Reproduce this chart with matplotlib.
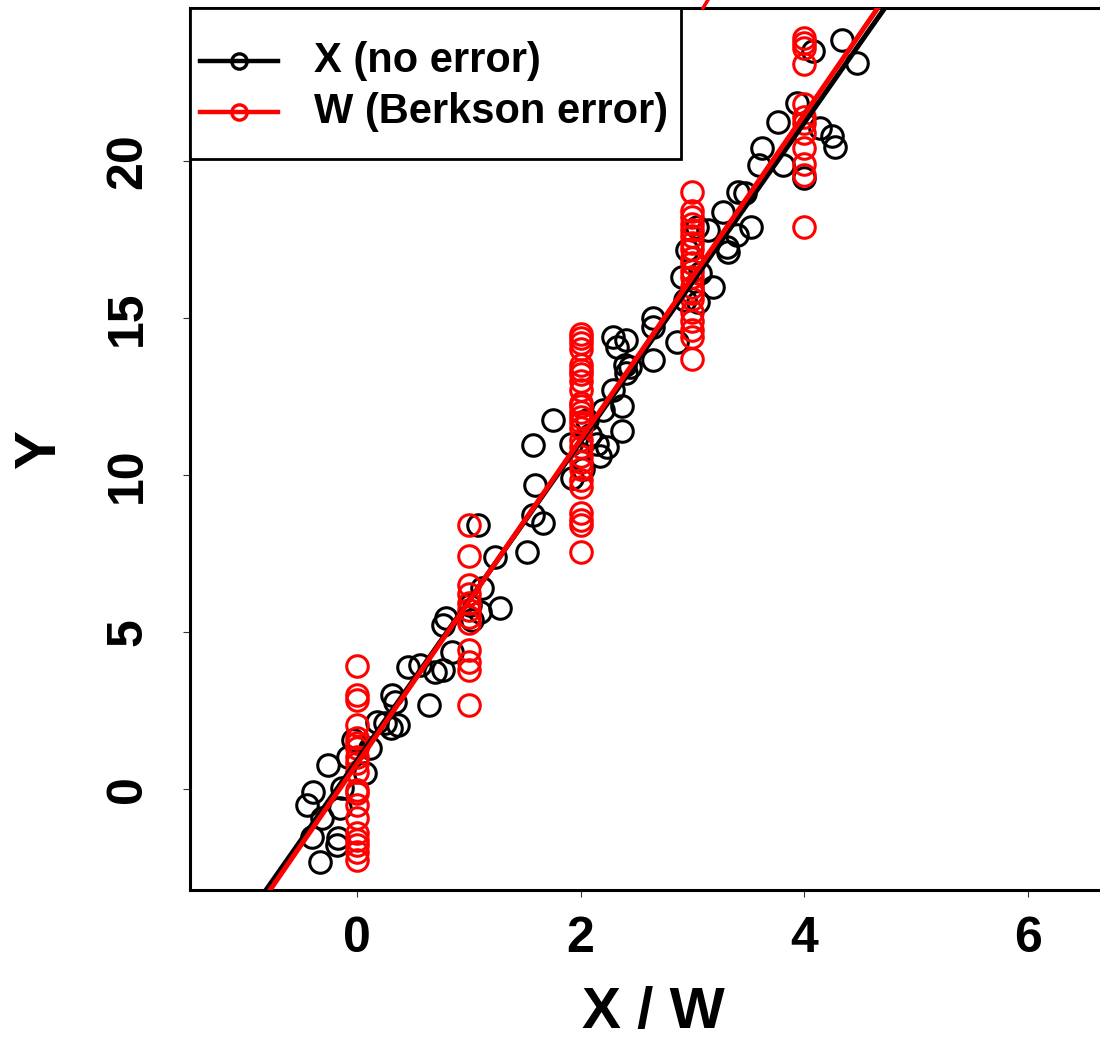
import matplotlib
matplotlib.use("Agg")
import matplotlib.pyplot as plt
from matplotlib.patches import Rectangle

plt.rcParams['font.family'] = ['Liberation Sans', 'DejaVu Sans']
plt.rcParams['font.weight'] = 'bold'

# ---- data: X (no error) ----
x_true = [-0.45, -0.39, -0.31, -0.40, -0.33, -0.18, -0.17, -0.15, -0.13, -0.26,
          -0.08, -0.04, 0.07, 0.12, 0.18, 0.25, 0.37, 0.30, 0.31, 0.34,
          0.46, 0.56, 0.70, 0.77, 0.64, 0.77, 0.85, 0.80, 1.01, 1.03,
          1.10, 1.12, 1.28, 1.08, 1.23, 1.52, 1.57, 1.66, 1.59, 1.57,
          1.75, 1.91, 1.92, 2.02, 2.06, 2.15, 2.24, 2.17, 2.37, 2.08,
          2.20, 2.29, 2.37, 2.41, 2.44, 2.40, 2.65, 2.33, 2.29, 2.41,
          2.65, 2.65, 2.86, 2.95, 2.91, 3.07, 3.18, 2.93, 3.05, 3.04,
          3.14, 3.27, 3.31, 3.32, 3.40, 3.52, 3.41, 3.47, 3.60, 3.62,
          3.81, 4.00, 3.77, 3.94, 4.14, 4.25, 4.28, 4.08, 4.34, 4.47]
y_true = [-0.51, -0.10, -0.92, -1.53, -2.32, -1.78, -1.56, -0.61, 0.03, 0.76,
          1.02, 1.56, 0.51, 1.31, 2.13, 2.10, 2.04, 1.94, 2.99, 2.77,
          3.89, 3.95, 3.73, 3.79, 2.68, 5.22, 4.36, 5.45, 5.86, 5.38,
          5.64, 6.40, 5.76, 8.41, 7.39, 7.55, 8.73, 8.47, 9.68, 10.96,
          11.75, 11.00, 9.90, 10.20, 11.75, 11.00, 10.90, 10.60, 11.40, 11.27,
          12.07, 12.70, 12.20, 13.25, 13.44, 13.50, 13.66, 14.08, 14.40, 14.30,
          15.00, 14.70, 14.24, 17.16, 16.30, 16.43, 15.99, 15.57, 15.50, 17.90,
          17.80, 18.38, 17.26, 17.10, 17.64, 17.90, 19.00, 18.98, 19.87, 20.41,
          19.87, 19.46, 21.24, 21.85, 21.05, 20.80, 20.45, 23.50, 23.85, 23.12]

# ---- data: W (Berkson error) ----
w_levels = [0, 1, 2, 3, 4]
y_w0 = [3.9, 3.0, 2.83, 2.04, 1.62, 1.47, 1.31, 1.02, 0.83, 0.54,
        -0.03, -0.13, -0.51, -0.92, -1.4, -1.62, -1.78, -2.0, -2.26]
y_w1 = [8.4, 7.42, 6.5, 6.2, 5.92, 5.7, 5.48, 5.28, 4.43, 4.05, 3.79, 2.68]
y_w2 = [14.5, 14.35, 14.2, 14.0, 13.5, 13.35, 13.2, 13.0, 12.7, 12.3,
        12.2, 12.0, 11.85, 11.7, 11.5, 11.1, 10.9, 10.6, 10.4, 10.2,
        9.84, 9.6, 8.8, 8.57, 8.4, 7.55]
y_w3 = [19.0, 18.4, 18.2, 18.0, 17.8, 17.6, 17.4, 17.2, 16.9, 16.75,
        16.5, 16.3, 16.0, 15.8, 15.6, 15.2, 14.9, 14.6, 14.4, 13.7]
y_w4 = [23.9, 23.75, 23.6, 23.1, 21.8, 21.4, 21.2, 20.9, 20.4, 19.9, 19.55, 17.9]
y_w = [y_w0, y_w1, y_w2, y_w3, y_w4]

# fitted lines (intercept, slope)
fit_labels = ['X (no error)', 'W (Berkson error)']
fit_colors = ['black', 'red']
fit_intercepts = [0.91, 0.80]
fit_slopes = [5.075, 5.167]

# stray red segment above the panel (from a neighbouring panel)
stray_x = [3.095, 3.14]
stray_y = [24.87, 25.13]

x_ticks = [0, 2, 4, 6]
y_ticks = [0, 5, 10, 15, 20]

W, H = 1100, 1041
AX_L, AX_R, AX_B, AX_T = 190, 1106, 151, 1033  # pixels from bottom-left

fig = plt.figure(figsize=(W / 100, H / 100), dpi=100)
ax = fig.add_axes([AX_L / W, AX_B / H, (AX_R - AX_L) / W, (AX_T - AX_B) / H])
ax.set_xlim(-1.494, 6.70)
ax.set_ylim(-3.22, 24.87)

ms = 15.5
ax.plot(x_true, y_true, linestyle='none', marker='o', mfc='none', mec='black',
        ms=ms, mew=2.2, zorder=2)
for w, ys in zip(w_levels, y_w):
    ax.plot([w] * len(ys), ys, linestyle='none', marker='o', mfc='none', mec='red',
            ms=ms, mew=2.2, zorder=3)

for a, b, c in zip(fit_intercepts, fit_slopes, fit_colors):
    ax.axline((0, a), slope=b, color=c, lw=3.6, zorder=4)

ax.plot(stray_x, stray_y, color='red', lw=2.5, clip_on=False, zorder=5)

ax.set_xticks(x_ticks)
ax.set_yticks(y_ticks)
ax.set_xticklabels([str(t) for t in x_ticks])
ax.set_yticklabels([str(t) for t in y_ticks], rotation=90, va='center')
ax.tick_params(axis='both', direction='out', length=5, width=0.8, color='#333333',
               labelsize=36)
ax.tick_params(axis='x', pad=14)
ax.tick_params(axis='y', pad=23)
for s in ax.spines.values():
    s.set_linewidth(2.2)
    s.set_color('black')

axw = AX_R - AX_L
axh = AX_T - AX_B
ax.set_xlabel('X / W', fontsize=42, fontweight='bold')
ax.set_ylabel('Y', fontsize=42, fontweight='bold')
ax.xaxis.set_label_coords((653 - AX_L) / axw, ((H - 1013) - AX_B) / axh)
ax.yaxis.set_label_coords((40 - AX_L) / axw, ((H - 450) - AX_B) / axh)
ax.xaxis.label.set_va('center')
ax.yaxis.label.set_va('center')

# ---- legend drawn in R style (pixel layout from top-left) ----
def ax_x(px):
    return (px - AX_L) / axw

def ax_y(py_top):
    return ((H - py_top) - AX_B) / axh

leg_right, leg_bottom = 681, 159
frame = Rectangle((0, ax_y(leg_bottom)), ax_x(leg_right), 1 - ax_y(leg_bottom),
                  transform=ax.transAxes, facecolor='white', edgecolor='black',
                  lw=2.0, zorder=10, clip_on=False)
ax.add_patch(frame)
row_y = [61, 112]
for lab, c, ry in zip(fit_labels, fit_colors, row_y):
    ax.plot([ax_x(200), ax_x(278)], [ax_y(ry)] * 2, color=c, lw=3.2,
            transform=ax.transAxes, zorder=11, clip_on=False)
    ax.plot([ax_x(239)], [ax_y(ry)], marker='o', mfc='none', mec=c, ms=11, mew=2.4,
            transform=ax.transAxes, zorder=12, clip_on=False)
    ax.text(ax_x(314), ax_y(ry), lab, transform=ax.transAxes, fontsize=30,
            fontweight='bold', va='center', ha='left', zorder=12)

fig.savefig('out.png', dpi=100)
